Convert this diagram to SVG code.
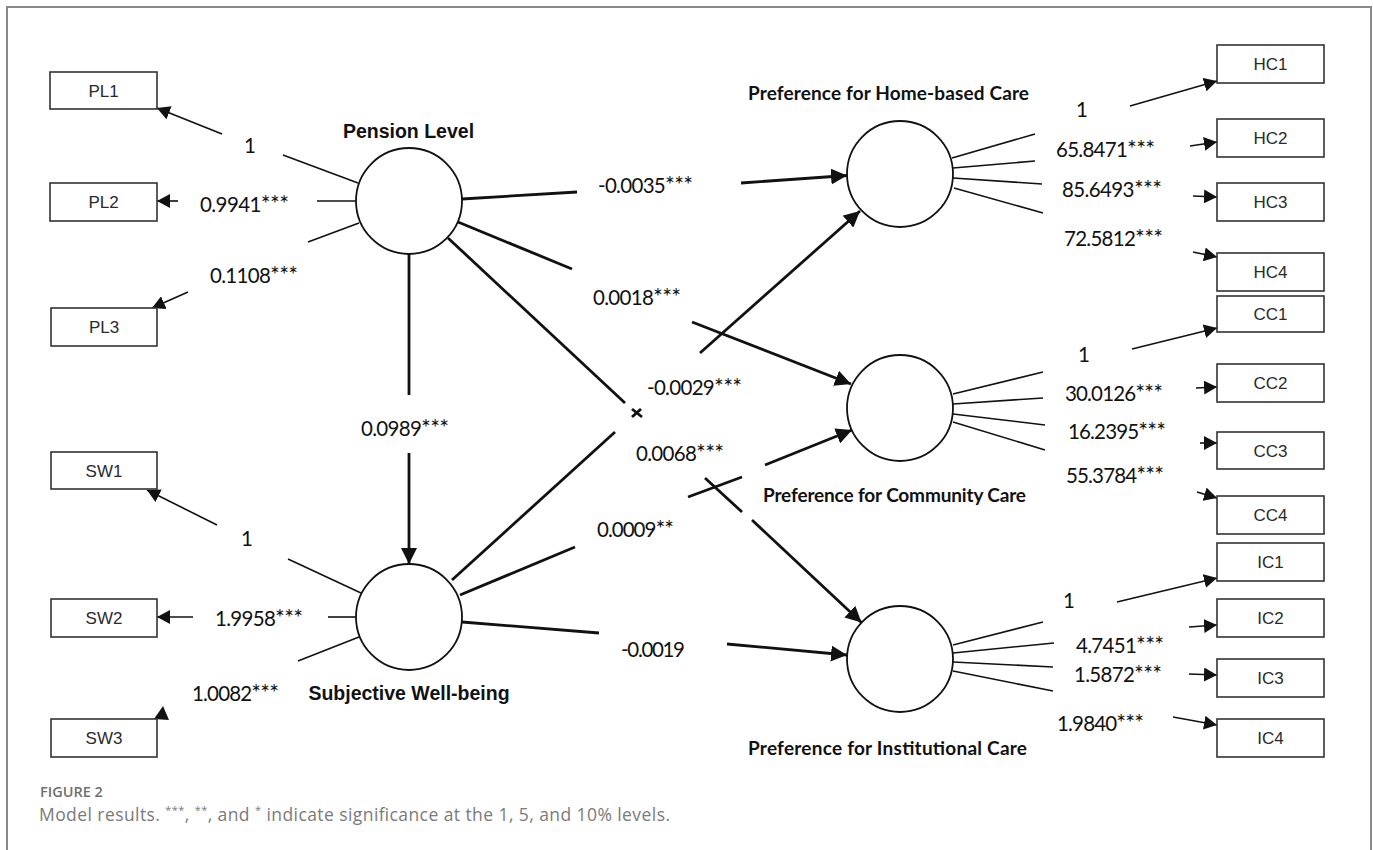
<svg xmlns="http://www.w3.org/2000/svg" width="1373" height="850" viewBox="0 0 1373 850">
<style>
.frame{fill:none;stroke:#8a8a8a;stroke-width:2}
.box{fill:#fff;stroke:#333;stroke-width:1.6}
.bt{font-family:"Liberation Sans",Arial,sans-serif;font-size:17px;fill:#2a2a2a;text-anchor:middle}
.lv{fill:#fff;stroke:#111;stroke-width:1.8}
.lt{font-family:"Liberation Sans",Arial,sans-serif;font-weight:bold;font-size:19.5px;fill:#111;text-anchor:middle}
.pt{font-family:Lato,"Liberation Sans",sans-serif;font-weight:bold;font-size:19px;fill:#111}
.n{font-family:Lato,"Liberation Sans",sans-serif;font-size:20.5px;fill:#111}
.s{font-size:23px}
.thin{stroke:#111;stroke-width:1.6;fill:none}
.thick{stroke:#111;stroke-width:2.8;fill:none}
.fig{font-family:"Open Sans","Liberation Sans",sans-serif;font-weight:600;font-size:14.5px;fill:#6f6f6f}
.cap{font-family:"Open Sans","Liberation Sans",sans-serif;font-size:17.5px;fill:#7a7a7a}
</style>
<defs>
<marker id="ah" markerUnits="userSpaceOnUse" markerWidth="14" markerHeight="14" refX="13" refY="7" orient="auto" viewBox="0 0 14 14"><path d="M0,0 L13,7 L0,14 z" fill="#111"/></marker>
<marker id="ahb" markerUnits="userSpaceOnUse" markerWidth="17" markerHeight="16" refX="16" refY="8" orient="auto" viewBox="0 0 17 16"><path d="M0,0 L16,8 L0,16 z" fill="#111"/></marker>
</defs>
<rect width="1373" height="850" fill="#fff"/>
<path class="frame" d="M7,850 V7 H1371 V850"/>

<g id="connectors">
<line class="thin" x1="358" y1="183" x2="283" y2="155"/>
<line class="thin" x1="222" y1="134" x2="157" y2="108" marker-end="url(#ah)"/>
<line class="thin" x1="356" y1="201" x2="317" y2="201"/>
<line class="thin" x1="178" y1="201" x2="157" y2="201" marker-end="url(#ah)"/>
<line class="thin" x1="359" y1="223" x2="308" y2="242"/>
<line class="thin" x1="188" y1="292" x2="152" y2="308" marker-end="url(#ah)"/>
<line class="thin" x1="361" y1="593" x2="288" y2="559"/>
<line class="thin" x1="217" y1="525" x2="147" y2="490" marker-end="url(#ah)"/>
<line class="thin" x1="356" y1="617" x2="328" y2="617"/>
<line class="thin" x1="193" y1="617" x2="157" y2="617" marker-end="url(#ah)"/>
<line class="thin" x1="359" y1="637" x2="298" y2="661"/>
<polygon points="163,706 154,719 169,720" fill="#111"/>
<line class="thin" x1="952" y1="158" x2="1035" y2="134"/>
<line class="thin" x1="1130" y1="106" x2="1217" y2="81" marker-end="url(#ah)"/>
<line class="thin" x1="953" y1="168" x2="1035" y2="161"/>
<line class="thin" x1="1190" y1="146" x2="1217" y2="142" marker-end="url(#ah)"/>
<line class="thin" x1="953" y1="178" x2="1042" y2="184"/>
<line class="thin" x1="1193" y1="196" x2="1217" y2="197" marker-end="url(#ah)"/>
<line class="thin" x1="954" y1="188" x2="1043" y2="213"/>
<line class="thin" x1="1193" y1="252" x2="1217" y2="257" marker-end="url(#ah)"/>
<line class="thin" x1="953" y1="394" x2="1043" y2="372"/>
<line class="thin" x1="1132" y1="349" x2="1217" y2="328" marker-end="url(#ah)"/>
<line class="thin" x1="953" y1="404" x2="1043" y2="398"/>
<line class="thin" x1="1196" y1="388" x2="1217" y2="387" marker-end="url(#ah)"/>
<line class="thin" x1="953" y1="414" x2="1045" y2="425"/>
<line class="thin" x1="1200" y1="443" x2="1217" y2="443" marker-end="url(#ah)"/>
<line class="thin" x1="953" y1="422" x2="1045" y2="450"/>
<line class="thin" x1="1197" y1="492" x2="1217" y2="498" marker-end="url(#ah)"/>
<line class="thin" x1="953" y1="645" x2="1043" y2="622"/>
<line class="thin" x1="1117" y1="602" x2="1217" y2="578" marker-end="url(#ah)"/>
<line class="thin" x1="953" y1="653" x2="1054" y2="643"/>
<line class="thin" x1="1189" y1="627" x2="1217" y2="625" marker-end="url(#ah)"/>
<line class="thin" x1="953" y1="662" x2="1053" y2="667"/>
<line class="thin" x1="1189" y1="674" x2="1217" y2="675" marker-end="url(#ah)"/>
<line class="thin" x1="953" y1="671" x2="1053" y2="691"/>
<line class="thin" x1="1173" y1="717" x2="1217" y2="725" marker-end="url(#ah)"/>
<line class="thick" x1="409" y1="254" x2="409" y2="395"/>
<line class="thick" x1="409" y1="453" x2="409" y2="564" marker-end="url(#ahb)"/>
<line class="thick" x1="462" y1="199" x2="577" y2="192"/>
<line class="thick" x1="741" y1="183" x2="847" y2="175.5" marker-end="url(#ahb)"/>
<line class="thick" x1="458" y1="222" x2="572" y2="269"/>
<line class="thick" x1="692" y1="322" x2="851" y2="384" marker-end="url(#ahb)"/>
<line class="thick" x1="448" y1="238" x2="625" y2="403"/>
<line class="thick" x1="705" y1="478" x2="742" y2="512"/>
<line class="thick" x1="752" y1="520" x2="861.5" y2="622.5" marker-end="url(#ahb)"/>
<line class="thick" x1="452" y1="580" x2="615" y2="432"/>
<line class="thick" x1="700" y1="353" x2="860" y2="211" marker-end="url(#ahb)"/>
<line class="thick" x1="460" y1="595" x2="575" y2="547"/>
<line class="thick" x1="688" y1="497" x2="742" y2="477"/>
<line class="thick" x1="765" y1="465" x2="852" y2="430" marker-end="url(#ahb)"/>
<line class="thick" x1="462" y1="622" x2="599" y2="633"/>
<line class="thick" x1="727" y1="644" x2="847" y2="655" marker-end="url(#ahb)"/>
<line class="thick" x1="632" y1="409" x2="642" y2="417"/>
<line class="thick" x1="632" y1="417" x2="641" y2="409"/>
</g>

<g id="PL1"><rect class="box" x="50" y="72" width="107" height="37"/><text class="bt" x="103.5" y="97">PL1</text></g>
<g id="PL2"><rect class="box" x="50" y="183" width="107" height="38"/><text class="bt" x="103.5" y="208">PL2</text></g>
<g id="PL3"><rect class="box" x="51" y="308" width="106" height="38"/><text class="bt" x="104" y="333">PL3</text></g>
<g id="SW1"><rect class="box" x="51" y="452" width="106" height="37"/><text class="bt" x="104" y="477">SW1</text></g>
<g id="SW2"><rect class="box" x="51" y="599" width="106" height="38"/><text class="bt" x="104" y="624">SW2</text></g>
<g id="SW3"><rect class="box" x="51" y="719" width="106" height="38"/><text class="bt" x="104" y="744">SW3</text></g>
<g id="HC1"><rect class="box" x="1217" y="45" width="107" height="38"/><text class="bt" x="1270.5" y="70">HC1</text></g>
<g id="HC2"><rect class="box" x="1217" y="119" width="107" height="38"/><text class="bt" x="1270.5" y="144">HC2</text></g>
<g id="HC3"><rect class="box" x="1217" y="183" width="107" height="38"/><text class="bt" x="1270.5" y="208">HC3</text></g>
<g id="HC4"><rect class="box" x="1217" y="253" width="107" height="38"/><text class="bt" x="1270.5" y="278">HC4</text></g>
<g id="CC1"><rect class="box" x="1217" y="296" width="107" height="36"/><text class="bt" x="1270.5" y="320">CC1</text></g>
<g id="CC2"><rect class="box" x="1217" y="364" width="107" height="38"/><text class="bt" x="1270.5" y="389">CC2</text></g>
<g id="CC3"><rect class="box" x="1217" y="432" width="107" height="37"/><text class="bt" x="1270.5" y="457">CC3</text></g>
<g id="CC4"><rect class="box" x="1217" y="496" width="107" height="38"/><text class="bt" x="1270.5" y="521">CC4</text></g>
<g id="IC1"><rect class="box" x="1217" y="543" width="107" height="38"/><text class="bt" x="1270.5" y="568">IC1</text></g>
<g id="IC2"><rect class="box" x="1217" y="599" width="107" height="38"/><text class="bt" x="1270.5" y="624">IC2</text></g>
<g id="IC3"><rect class="box" x="1217" y="659" width="107" height="38"/><text class="bt" x="1270.5" y="684">IC3</text></g>
<g id="IC4"><rect class="box" x="1217" y="719" width="107" height="38"/><text class="bt" x="1270.5" y="744">IC4</text></g>

<g id="PensionLevel"><circle class="lv" cx="409" cy="201" r="53"/><text class="lt" x="408.5" y="138">Pension Level</text></g>
<g id="SubjectiveWellbeing"><circle class="lv" cx="409" cy="617" r="53"/><text class="lt" x="409" y="700">Subjective Well-being</text></g>
<g id="HomeCare"><circle class="lv" cx="900" cy="174" r="53"/><text class="pt" x="748" y="100" textLength="281">Preference for Home-based Care</text></g>
<g id="CommunityCare"><circle class="lv" cx="900" cy="408" r="53"/><text class="pt" x="763" y="502" textLength="263">Preference for Community Care</text></g>
<g id="InstitutionalCare"><circle class="lv" cx="900" cy="659" r="53"/><text class="pt" x="748" y="755" textLength="279">Preference for Institutional Care</text></g>

<g id="labels">
<text class="n" x="244" y="153">1</text>
<text class="n" x="200" y="212" textLength="89">0.9941<tspan class="s">***</tspan></text>
<text class="n" x="210" y="283" textLength="88">0.1108<tspan class="s">***</tspan></text>
<text class="n" x="361" y="436" textLength="88">0.0989<tspan class="s">***</tspan></text>
<text class="n" x="241" y="546">1</text>
<text class="n" x="215" y="626" textLength="88">1.9958<tspan class="s">***</tspan></text>
<text class="n" x="192" y="701" textLength="87">1.0082<tspan class="s">***</tspan></text>
<text class="n" x="598" y="193" textLength="95">-0.0035<tspan class="s">***</tspan></text>
<text class="n" x="593" y="305" textLength="88">0.0018<tspan class="s">***</tspan></text>
<text class="n" x="647" y="395" textLength="95">-0.0029<tspan class="s">***</tspan></text>
<text class="n" x="636" y="461" textLength="88">0.0068<tspan class="s">***</tspan></text>
<text class="n" x="597" y="537" textLength="77">0.0009<tspan class="s">**</tspan></text>
<text class="n" x="621" y="657" textLength="64">-0.0019</text>
<text class="n" x="1076" y="117">1</text>
<text class="n" x="1056" y="157" textLength="99">65.8471<tspan class="s">***</tspan></text>
<text class="n" x="1062" y="197" textLength="100">85.6493<tspan class="s">***</tspan></text>
<text class="n" x="1064" y="246" textLength="99">72.5812<tspan class="s">***</tspan></text>
<text class="n" x="1078" y="362">1</text>
<text class="n" x="1065" y="401" textLength="98">30.0126<tspan class="s">***</tspan></text>
<text class="n" x="1068" y="439" textLength="98">16.2395<tspan class="s">***</tspan></text>
<text class="n" x="1066" y="483" textLength="98">55.3784<tspan class="s">***</tspan></text>
<text class="n" x="1063" y="608">1</text>
<text class="n" x="1076" y="653" textLength="88">4.7451<tspan class="s">***</tspan></text>
<text class="n" x="1074" y="682" textLength="88">1.5872<tspan class="s">***</tspan></text>
<text class="n" x="1057" y="731" textLength="87">1.9840<tspan class="s">***</tspan></text>
</g>

<g id="caption">
<text class="fig" x="40" y="797">FIGURE 2</text>
<text class="cap" x="39" y="821" textLength="631">Model results. <tspan font-size="11" dy="-7">***</tspan><tspan dy="7">, </tspan><tspan font-size="11" dy="-7">**</tspan><tspan dy="7">, and </tspan><tspan font-size="11" dy="-7">*</tspan><tspan dy="7"> indicate significance at the 1, 5, and 10% levels.</tspan></text>
</g>
</svg>
